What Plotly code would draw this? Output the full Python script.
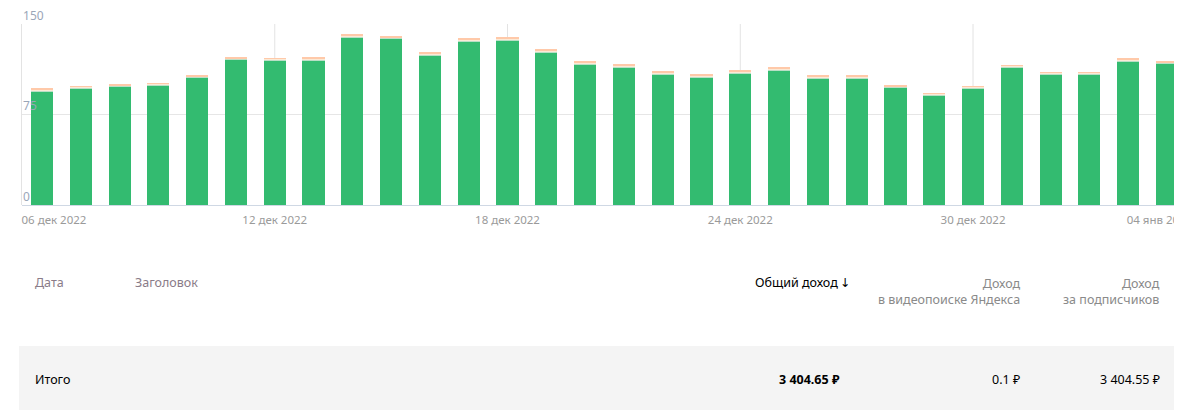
import plotly.graph_objects as go
import pandas as pd

dates = pd.date_range("2022-12-06", "2023-01-04", freq="D")
subs_income = [94.2, 96.4, 98.0, 98.9, 105.5, 120.4, 119.6, 119.9, 139.0, 137.8,
               124.1, 135.7, 136.5, 126.5, 116.6, 114.0, 108.1, 105.7, 109.0, 111.5,
               104.8, 104.8, 97.2, 90.6, 96.4, 113.8, 108.0, 108.0, 118.8, 117.1]
cap_green = [0.7] * 30
cap_cream = [0.7] * 30
cap_peach = [0.8] * 30

tick_dates = ["2022-12-06", "2022-12-12", "2022-12-18", "2022-12-24", "2022-12-30", "2023-01-04"]
tick_text = ["\u00a0" * 8 + "06 дек 2022", "12 дек 2022", "18 дек 2022", "24 дек 2022",
             "30 дек 2022", "04 янв 2022" + "\u00a0" * 5]
grid_dates = ["2022-12-12", "2022-12-18", "2022-12-24", "2022-12-30"]
y_ticks = [0, 75, 150]

headers = ["Дата", "Заголовок", "Общий доход\u2009↓", "Доход<br>в видеопоиске Яндекса", "Доход<br>за подписчиков"]
totals = ["Итого", "3 404.65 ₽", "0.1 ₽", "3 404.55 ₽"]

# page body has an 8px margin; figure is sized so it fits the 1196x418 window
OFF = 8
W, H = 1196 - 2 * OFF, 418 - 2 * OFF
# plot area in window pixels
L, R, T, B = 22, 1174, 24, 205
FONT = "Noto Sans, DejaVu Sans, sans-serif"


def px(x):
    return (x - L) / (R - L)


def py(y):
    return (B - y) / (B - T)


fig = go.Figure()
for vals, col in [(subs_income, "#33bb70"), (cap_green, "#b9dfc6"),
                  (cap_cream, "#fbead6"), (cap_peach, "#ffc9a9")]:
    fig.add_trace(go.Bar(x=dates, y=vals, marker=dict(color=col, line=dict(width=0)),
                         hoverinfo="skip", showlegend=False))

for d in grid_dates:
    fig.add_shape(type="line", xref="x", yref="paper", x0=d, x1=d, y0=0, y1=1,
                  line=dict(color="#e3e3e3", width=1), layer="below")

# cover the part of the last tick label beyond the plot edge (as in the reference)
fig.add_shape(type="rect", xref="paper", yref="paper", x0=1.0, x1=1.2, y0=-0.2, y1=-0.01,
              fillcolor="white", line=dict(width=0), layer="above")

# table background row
fig.add_shape(type="rect", xref="paper", yref="paper", x0=px(19), x1=px(1174),
              y0=py(410), y1=py(346), fillcolor="#f4f4f4", line=dict(width=0), layer="below")

HS = 12.5
ann = []
ann.append(dict(text=headers[0], x=px(33), y=py(282), xanchor="left",
                font=dict(color="#8a7c89", size=HS)))
ann.append(dict(text=headers[1], x=px(133), y=py(282), xanchor="left",
                font=dict(color="#8a7c89", size=HS)))
ann.append(dict(text=headers[2], x=px(852), y=py(282), xanchor="right",
                font=dict(color="#000000", size=HS)))
ann.append(dict(text=headers[3], x=px(1022), y=py(273), xanchor="right", yanchor="top",
                align="right", font=dict(color="#8a8a8a", size=HS)))
ann.append(dict(text=headers[4], x=px(1162), y=py(273), xanchor="right", yanchor="top",
                align="right", font=dict(color="#8a8a8a", size=HS)))
ann.append(dict(text=totals[0], x=px(33), y=py(379), xanchor="left",
                font=dict(color="#000000", size=HS)))
ann.append(dict(text="<b>" + totals[1] + "</b>", x=px(842), y=py(379), xanchor="right",
                font=dict(color="#000000", size=HS)))
ann.append(dict(text=totals[2], x=px(1022), y=py(379), xanchor="right",
                font=dict(color="#000000", size=HS)))
ann.append(dict(text=totals[3], x=px(1162), y=py(379), xanchor="right",
                font=dict(color="#000000", size=HS)))
for a in ann:
    a.update(xref="paper", yref="paper", showarrow=False, yanchor=a.get("yanchor", "middle"))

fig.update_layout(
    width=W, height=H,
    margin=dict(l=L - OFF, r=(W + OFF) - R, t=T - OFF, b=(H + OFF) - B, autoexpand=False),
    barmode="stack", bargap=0.43,
    plot_bgcolor="white", paper_bgcolor="white",
    font=dict(family=FONT, size=12, color="#999999"),
    annotations=ann,
    xaxis=dict(
        type="date",
        range=["2022-12-05 11:38", "2023-01-04 04:20"],
        tickvals=tick_dates, ticktext=tick_text,
        showgrid=False, zeroline=False,
        ticks="outside", ticklen=4, tickcolor="rgba(0,0,0,0)",
        tickfont=dict(color="#9a9a9a", size=11.5),
        ticklabeloverflow="allow", automargin=False,
        showline=False,
    ),
    yaxis=dict(
        range=[0, 150], tickvals=y_ticks,
        ticklabelposition="inside top",
        ticklabeloverflow="allow", automargin=False,
        tickfont=dict(color="#9aa6b8", size=12),
        showgrid=True, gridcolor="#e6e6e6",
        zeroline=True, zerolinecolor="#cfd8e4", zerolinewidth=1,
        showline=True, linecolor="#e3e3e3", linewidth=1,
    ),
)

fig.write_html("out.html")
